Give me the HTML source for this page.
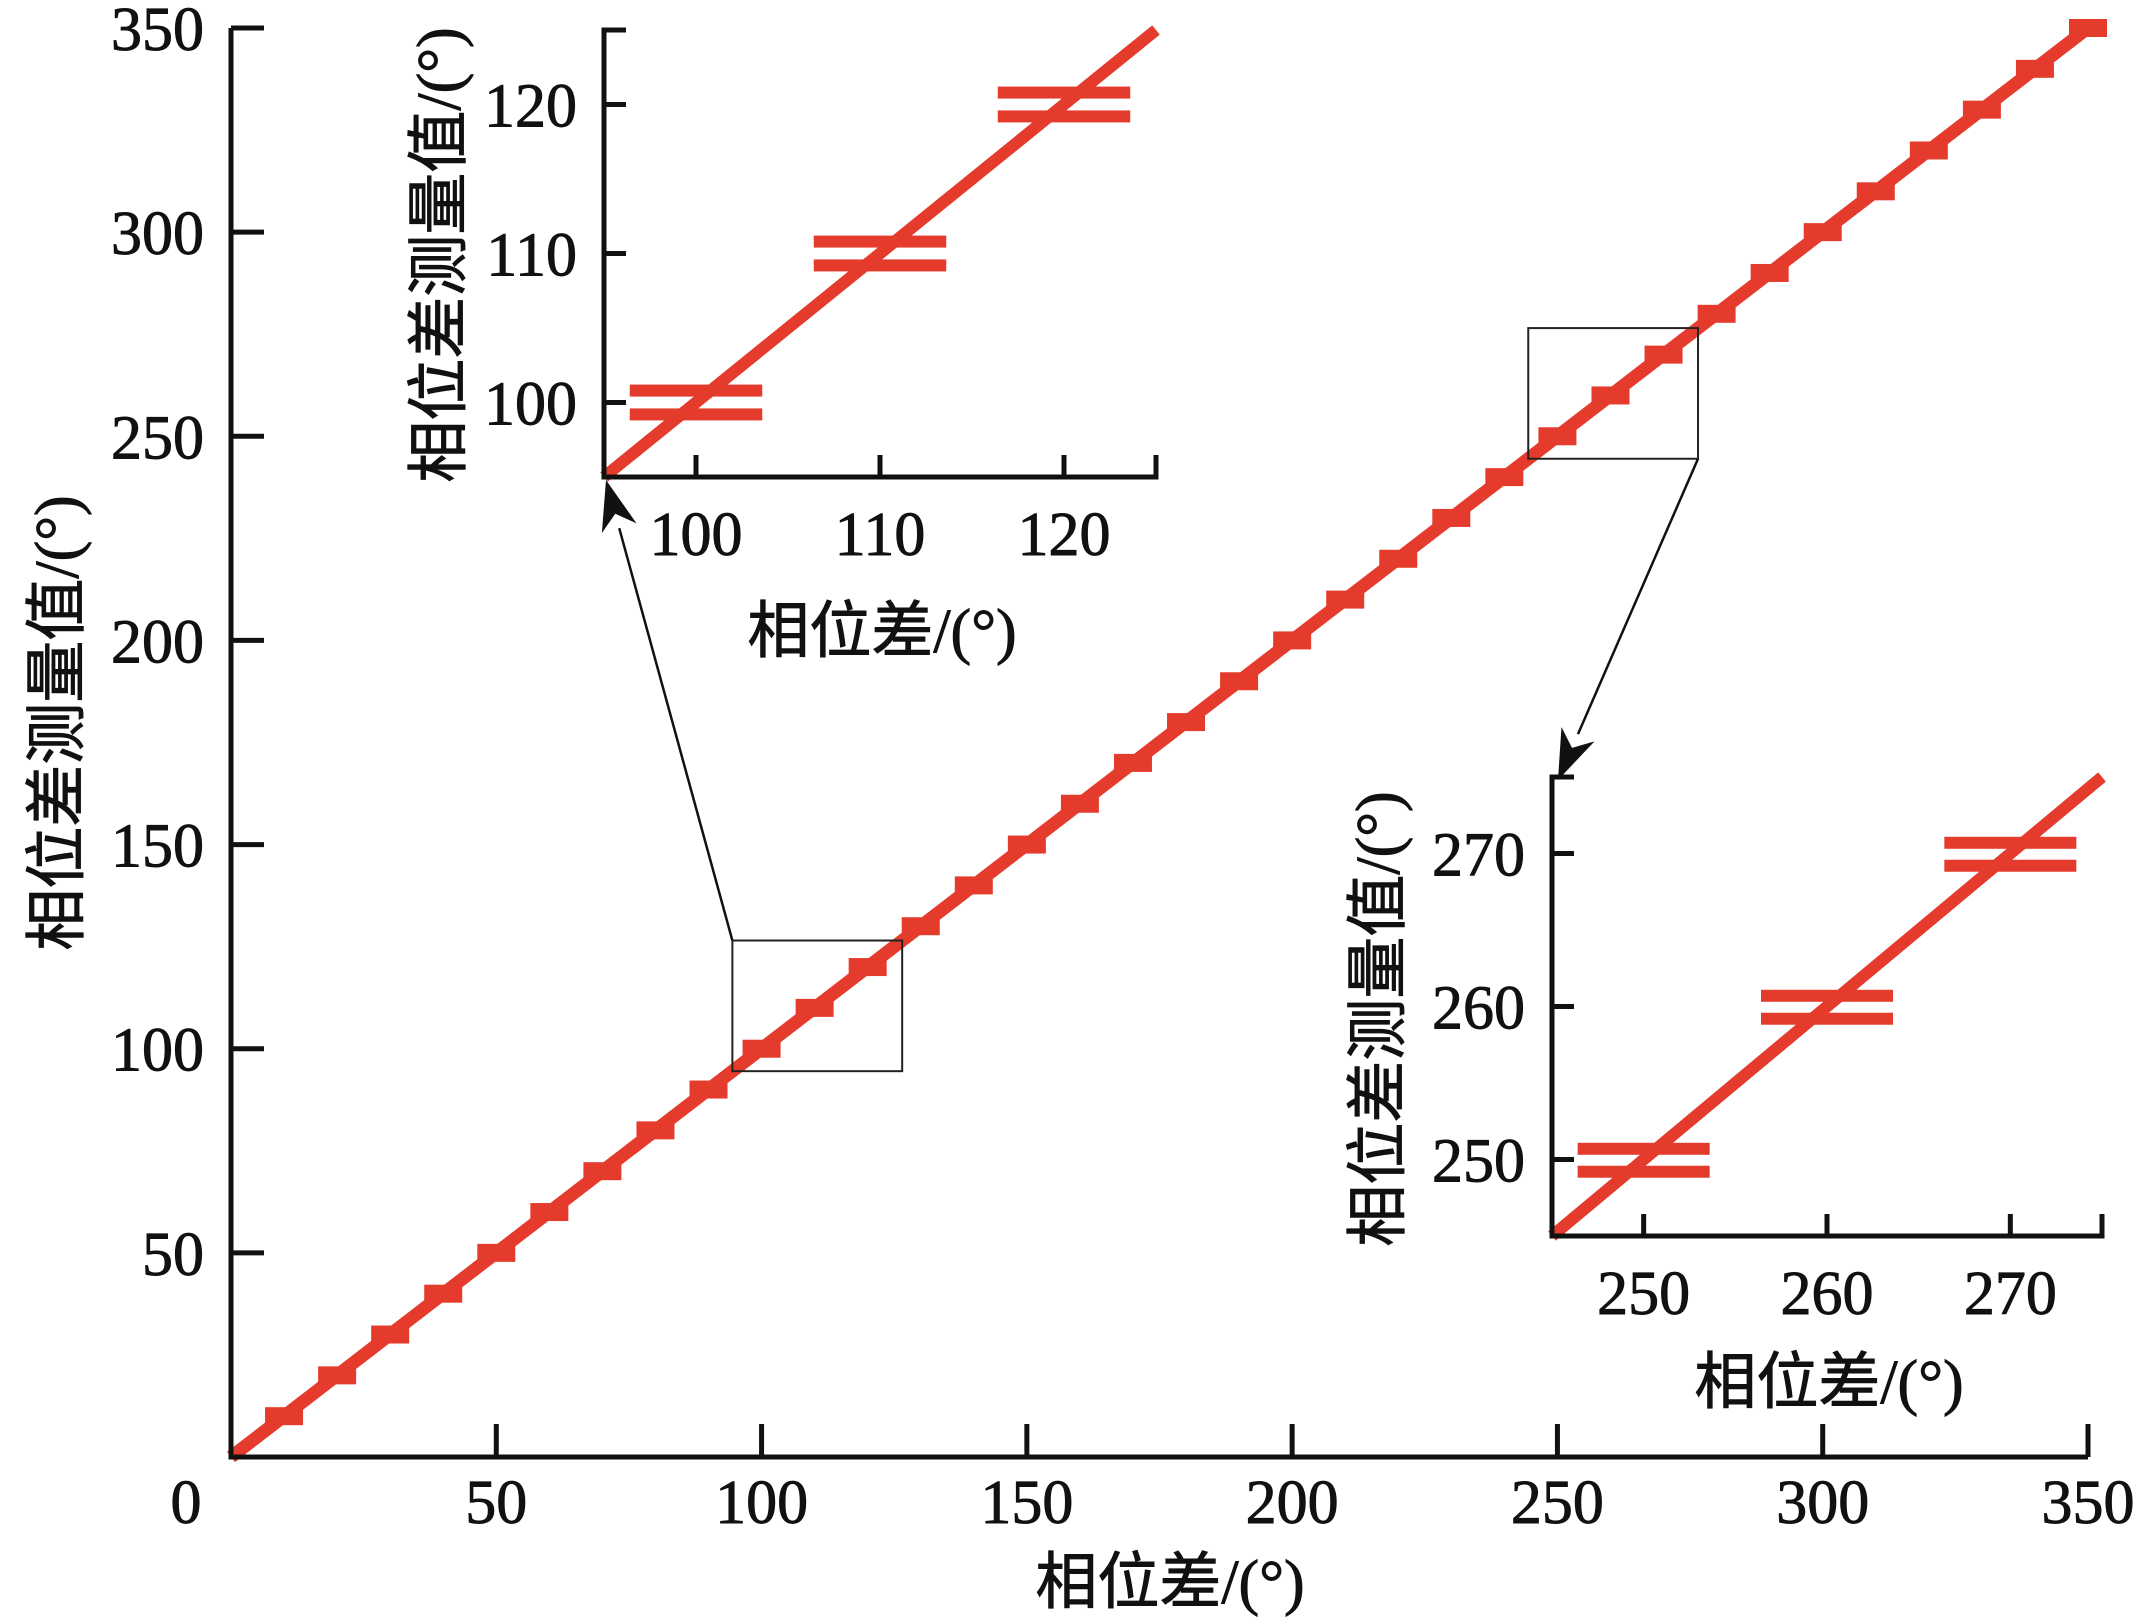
<!DOCTYPE html>
<html><head><meta charset="utf-8"><style>
html,body{margin:0;padding:0;background:#fff;}
svg{display:block;}
text{font-family:"Liberation Serif","Noto Sans CJK SC",serif;fill:#111;stroke:#111;stroke-width:0.9;}
.cjk{font-family:"Liberation Serif","Noto Sans CJK SC",sans-serif;}
</style></head><body>
<svg id="chart" width="2154" height="1623" viewBox="0 0 2154 1623" xmlns="http://www.w3.org/2000/svg">
</svg>
<script>
// main chart data
const mainX = [10,20,30,40,50,60,70,80,90,100,110,120,130,140,150,160,170,180,190,200,210,220,230,240,250,260,270,280,290,300,310,320,330,340,350];
const mainY = [10,20,30,40,50,60,70,80,90,100,110,120,130,140,150,160,170,180,190,200,210,220,230,240,250,260,270,280,290,300,310,320,330,340,350];
const mainTicks = [50,100,150,200,250,300,350];
const mainTickLabels = ["50","100","150","200","250","300","350"];
// inset 1 data
const in1X = [100,110,120];
const in1Upper = [100.8,110.8,120.8];
const in1Lower = [99.2,109.2,119.2];
const in1Ticks = [100,110,120];
// inset 2 data
const in2X = [250,260,270];
const in2Upper = [250.7,260.7,270.7];
const in2Lower = [249.2,259.2,269.2];
const in2Ticks = [250,260,270];

const NS = "http://www.w3.org/2000/svg";
const svg = document.getElementById('chart');
const RED = "#e53b2c";
function mk(tag, attrs, parent){
  const e = document.createElementNS(NS, tag);
  for (const k in attrs) e.setAttribute(k, attrs[k]);
  (parent||svg).appendChild(e);
  return e;
}
const mX0=231, mX1=2088, mY0=1457, mY1=28;
const mxs = v => mX0 + (v/350)*(mX1-mX0);
const mys = v => mY0 - (v/350)*(mY0-mY1);

const gm = mk('g',{});


const ml = mk('line',{x1:mxs(0),y1:mys(0),x2:mxs(mainX[mainX.length-1]),y2:mys(mainY[mainY.length-1]),stroke:RED,'stroke-width':13},gm);


mainX.forEach((x,i)=>{
  const r = mk('rect',{x:mxs(x)-19,y:mys(mainY[i])-9,width:38,height:18,fill:RED},gm);
  
  
});
const ax = mk('path',{d:`M${mX0},${mY1} V${mY0} H${mX1}`,fill:'none',stroke:'#111','stroke-width':5},gm);


mainTicks.forEach((t,i)=>{
  const tx = mk('line',{x1:mxs(t),y1:mY0,x2:mxs(t),y2:mY0-33,stroke:'#111','stroke-width':5},gm);
  
  
  const ty = mk('line',{x1:mX0,y1:mys(t),x2:mX0+33,y2:mys(t),stroke:'#111','stroke-width':5},gm);
  
  
  const lx = mk('text',{x:mxs(t),y:mys(0)+66,'font-size':62,'text-anchor':'middle'},gm);
  lx.textContent = mainTickLabels[i];
  
  
  const ly = mk('text',{x:204,y:mys(t)+22,'font-size':62,'text-anchor':'end'},gm);
  ly.textContent = mainTickLabels[i];
  
  
});
const l0 = mk('text',{x:186,y:1523,'font-size':62,'text-anchor':'middle'},gm);
l0.textContent='0';


const xt = mk('text',{x:1170,y:1603,'font-size':62,'text-anchor':'middle',class:'cjk'},gm);
xt.textContent='相位差/(°)';


const yt = mk('text',{x:0,y:0,'font-size':62,'text-anchor':'middle',class:'cjk',transform:'translate(78,723) rotate(-90)'},gm);
yt.textContent='相位差测量值/(°)';



function inset(name, left, bottom, w, h, d0, xs, up, lo, ticks, ytitleX, ytitleY, xtitleY){
  const g = mk('g',{});
  
  
  const d1 = d0+30;
  const sx = v => left + (v-d0)/30*w;
  const sy = v => bottom - (v-d0)/30*h;
  const line = mk('line',{x1:sx(d0),y1:sy(d0),x2:sx(d1),y2:sy(d1),stroke:RED,'stroke-width':12},g);
  
  
  xs.forEach((x,i)=>{
    const a = mk('rect',{x:sx(x-3.6),y:sy(up[i])-6,width:sx(x+3.6)-sx(x-3.6),height:12,fill:RED},g);
    
    
    const b = mk('rect',{x:sx(x-3.6),y:sy(lo[i])-6,width:sx(x+3.6)-sx(x-3.6),height:12,fill:RED},g);
    
    
  });
  const axp = mk('path',{d:`M${left+22},${sy(d1)} H${left} V${bottom} H${sx(d1)} V${bottom-22}`,fill:'none',stroke:'#111','stroke-width':5},g);
  
  
  ticks.forEach(t=>{
    const a = mk('line',{x1:sx(t),y1:bottom,x2:sx(t),y2:bottom-22,stroke:'#111','stroke-width':5},g);
    
    
    const b = mk('line',{x1:left,y1:sy(t),x2:left+22,y2:sy(t),stroke:'#111','stroke-width':5},g);
    
    
    const lx = mk('text',{x:sx(t),y:bottom+78,'font-size':62,'text-anchor':'middle'},g);
    lx.textContent = String(t);
    
    
    const ly = mk('text',{x:left-27,y:sy(t)+22,'font-size':62,'text-anchor':'end'},g);
    ly.textContent = String(t);
    
    
  });
  const xtt = mk('text',{x:left+w/2+2,y:xtitleY,'font-size':62,'text-anchor':'middle',class:'cjk'},g);
  xtt.textContent='相位差/(°)';
  
  
  const ytt = mk('text',{x:0,y:0,'font-size':62,'text-anchor':'middle',class:'cjk',transform:`translate(${ytitleX},${ytitleY}) rotate(-90)`},g);
  ytt.textContent='相位差测量值/(°)';
  
  
}
inset('inset-100-120', 604, 477, 552, 447, 95, in1X, in1Upper, in1Lower, in1Ticks, 460, 255, 652);
inset('inset-250-270', 1552, 1236, 550, 459, 245, in2X, in2Upper, in2Lower, in2Ticks, 1399, 1019, 1403);

function zoomBox(name, d0, tipX, tipY, fromCorner){
  const x0=mxs(d0-0.5), x1=mxs(d0+31.5), y0=mys(d0+31.5), y1=mys(d0-0.5);
  const r = mk('rect',{x:x0,y:y0,width:x1-x0,height:y1-y0,fill:'none',stroke:'#222','stroke-width':2});
  
  
  const sx = fromCorner==='tl'?x0:x1, sy = fromCorner==='tl'?y0:y1;
  const ang = Math.atan2(tipY-sy, tipX-sx);
  const L=50, W=18;
  const bx = tipX - L*Math.cos(ang), by = tipY - L*Math.sin(ang);
  const ln = mk('line',{x1:sx,y1:sy,x2:bx,y2:by,stroke:'#111','stroke-width':2.5});
  
  
  const px = -Math.sin(ang), py = Math.cos(ang);
  const nx = tipX - 0.7*L*Math.cos(ang), ny = tipY - 0.7*L*Math.sin(ang);
  const hd = mk('polygon',{points:`${tipX},${tipY} ${bx+px*W},${by+py*W} ${nx},${ny} ${bx-px*W},${by-py*W}`,fill:'#111'});
  
  
}
zoomBox('zoom-box-100', 95, 606, 480, 'tl');
zoomBox('zoom-box-250', 245, 1558, 780, 'br');
</script>
</body></html>
